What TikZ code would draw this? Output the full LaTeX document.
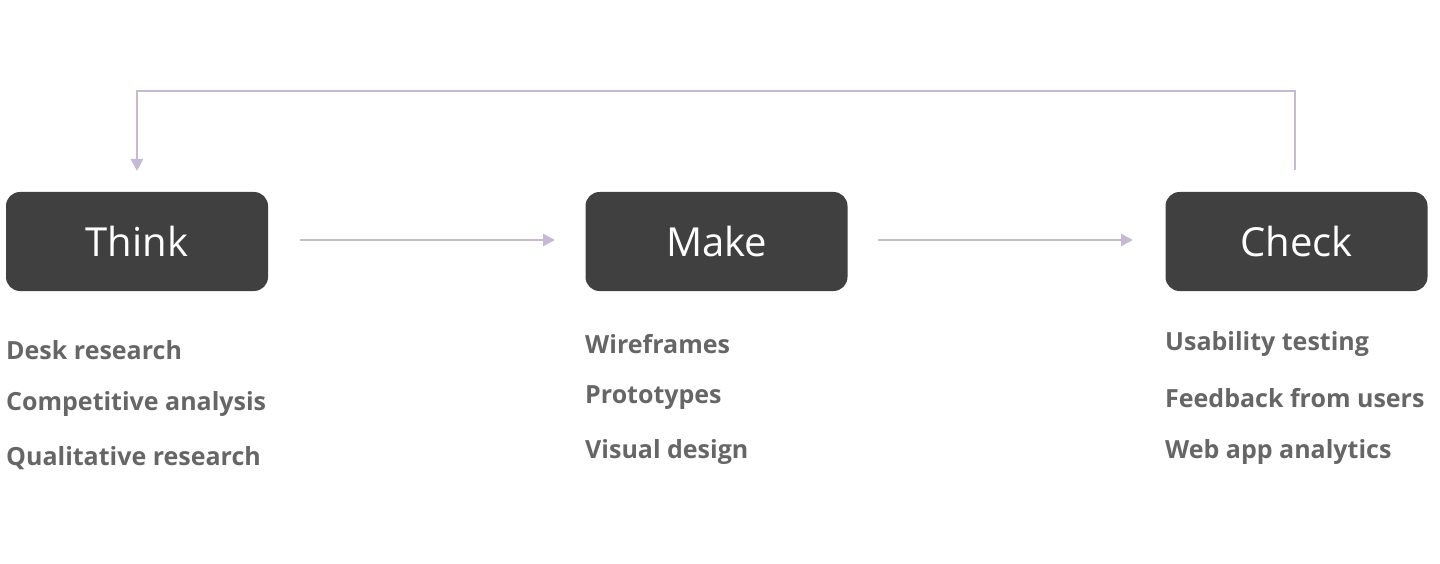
\documentclass[tikz,border=0pt]{standalone}
\usepackage{fontspec}
\setmainfont{Open Sans}
\usetikzlibrary{arrows.meta}
\definecolor{boxc}{HTML}{404040}
\definecolor{arrc}{HTML}{C6B9D4}
\definecolor{txtc}{HTML}{666666}
\begin{document}
\begin{tikzpicture}[x=1pt,y=-1pt,
  stage/.style={fill=boxc,rounded corners=14pt,minimum width=262pt,minimum height=99pt,inner sep=0pt,text=white,font=\fontsize{40}{48}\selectfont},
  item/.style={anchor=west,inner sep=0pt,text=txtc,font=\fontsize{25}{30}\selectfont\bfseries},
  conn/.style={draw=arrc,line width=2.5pt,-{Triangle[width=12pt,length=12pt]}}]
\useasboundingbox (0,0) rectangle (1440,564);
\node[stage] (think) at (137,241.5) {Think};
\node[stage] (make) at (716.5,241.5) {Make};
\node[stage] (check) at (1296.5,241.5) {Check};
\coordinate (a1) at (300,240); \coordinate (a2) at (555,240);
\coordinate (b1) at (878,240); \coordinate (b2) at (1133,240);
\draw[conn] (a1) -- (a2);
\draw[conn] (b1) -- (b2);
\coordinate (c1) at (1295,170); \coordinate (c2) at (137,171);
\draw[conn] (c1) -- (1295,91) -- (137,91) -- (c2);
\node[item] (t1) at (6,350) {Desk research};
\node[item] (t2) at (6,404) {Competitive analysis};
\node[item] (t3) at (6,458) {Qualitative research};
\node[item] (m1) at (585,344) {Wireframes};
\node[item] (m2) at (585,398) {Prototypes};
\node[item] (m3) at (585,452) {Visual design};
\node[item] (k1) at (1165,344) {Usability testing};
\node[item] (k2) at (1165,398) {Feedback from users};
\node[item] (k3) at (1165,452) {Web app analytics};
\end{tikzpicture}
\end{document}
